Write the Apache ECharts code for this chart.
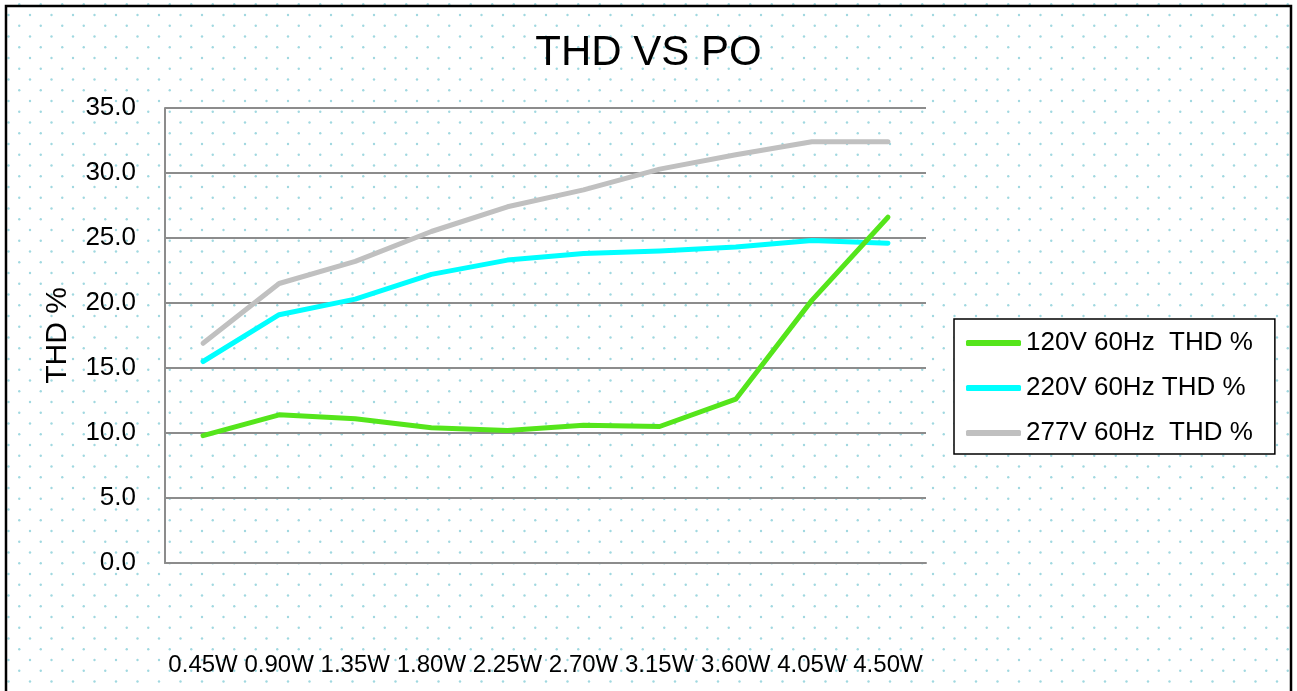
<!DOCTYPE html>
<html>
<head>
<meta charset="utf-8">
<script src="https://cdn.jsdelivr.net/npm/echarts@6/dist/echarts.min.js"></script>
<style>
html,body{margin:0;padding:0;background:#fff;}
#chart{width:1297px;height:691px;}
</style>
</head>
<body>
<div id="chart"></div>
<script>
var categories = ['0.45W','0.90W','1.35W','1.80W','2.25W','2.70W','3.15W','3.60W','4.05W','4.50W'];
var seriesNames = ['120V 60Hz  THD %','220V 60Hz THD %','277V 60Hz  THD %'];
var thd120 = [9.8, 11.4, 11.1, 10.4, 10.2, 10.6, 10.5, 12.6, 20.2, 26.6];
var thd220 = [15.5, 19.1, 20.3, 22.2, 23.3, 23.8, 24.0, 24.3, 24.8, 24.6];
var thd277 = [16.9, 21.5, 23.2, 25.5, 27.4, 28.7, 30.3, 31.4, 32.4, 32.4];
var yTicks = [0, 5, 10, 15, 20, 25, 30, 35];

// dotted background pattern
var pc = document.createElement('canvas');
pc.width = 43; pc.height = 43;
var g = pc.getContext('2d');
g.fillStyle = '#fff'; g.fillRect(0,0,43,43);
g.fillStyle = '#a0d8e0';
function dot(x,y){ for(var dx=-43;dx<=43;dx+=43){for(var dy=-43;dy<=43;dy+=43){g.beginPath();g.arc(x+dx,y+dy,1.2,0,Math.PI*2);g.fill();}} }
dot(8.5,15); dot(30,15); dot(8.5,36.5); dot(30,36.5);
dot(19.25,4.25); dot(40.75,4.25); dot(19.25,25.75); dot(40.75,25.75);

var FONT = 'Liberation Sans, Arial, sans-serif';
var chart = echarts.init(document.getElementById('chart'), null, {renderer:'canvas'});
chart.setOption({
  backgroundColor: {image: pc, repeat: 'repeat'},
  animation: false,
  title: {
    text: 'THD VS PO', left: 'center', top: 27,
    textStyle: {fontFamily: FONT, fontSize: 42, fontWeight: 'normal', color: '#000'}
  },
  legend: {
    orient: 'vertical', left: 954, top: 319,
    padding: [11, 22, 8, 12], itemGap: 19,
    backgroundColor: '#fff', borderColor: '#000', borderWidth: 1.5,
    icon: 'roundRect', itemWidth: 55, itemHeight: 6,
    textStyle: {fontFamily: FONT, fontSize: 26, color: '#000'},
    data: seriesNames
  },
  grid: {left: 165, right: 371, top: 108, bottom: 128, containLabel: false},
  xAxis: {
    type: 'category', data: categories, boundaryGap: true,
    axisLine: {show: true, lineStyle: {color: '#8c8c8c', width: 2}},
    axisTick: {show: false},
    axisLabel: {margin: 90, fontFamily: FONT, fontSize: 24, color: '#000', interval: 0}
  },
  yAxis: {
    type: 'value', min: yTicks[0], max: yTicks[yTicks.length-1], interval: 5,
    name: 'THD %', nameLocation: 'middle', nameGap: 92,
    nameTextStyle: {fontFamily: FONT, fontSize: 30, color: '#000'},
    axisLine: {show: true, lineStyle: {color: '#8c8c8c', width: 2}},
    axisTick: {show: false},
    splitLine: {show: true, lineStyle: {color: '#8c8c8c', width: 2}},
    axisLabel: {margin: 29, fontFamily: FONT, fontSize: 26, color: '#000',
      formatter: function(v){ return v.toFixed(1); }}
  },
  graphic: [{
    type: 'rect', shape: {x: 6, y: 6, width: 1285, height: 700},
    style: {fill: 'none', stroke: '#000', lineWidth: 2.5}, silent: true, z: 100
  }],
  series: [
    {name: seriesNames[0], type: 'line', data: thd120, symbol: 'none', z: 4,
     itemStyle: {color: '#55e51b'}, lineStyle: {color: '#55e51b', width: 5, cap: 'round', join: 'round'}},
    {name: seriesNames[1], type: 'line', data: thd220, symbol: 'none', z: 3,
     itemStyle: {color: '#00ffff'}, lineStyle: {color: '#00ffff', width: 5, cap: 'round', join: 'round'}},
    {name: seriesNames[2], type: 'line', data: thd277, symbol: 'none', z: 2,
     itemStyle: {color: '#c0c0c0'}, lineStyle: {color: '#c0c0c0', width: 5, cap: 'round', join: 'round'}}
  ]
});
</script>
</body>
</html>
